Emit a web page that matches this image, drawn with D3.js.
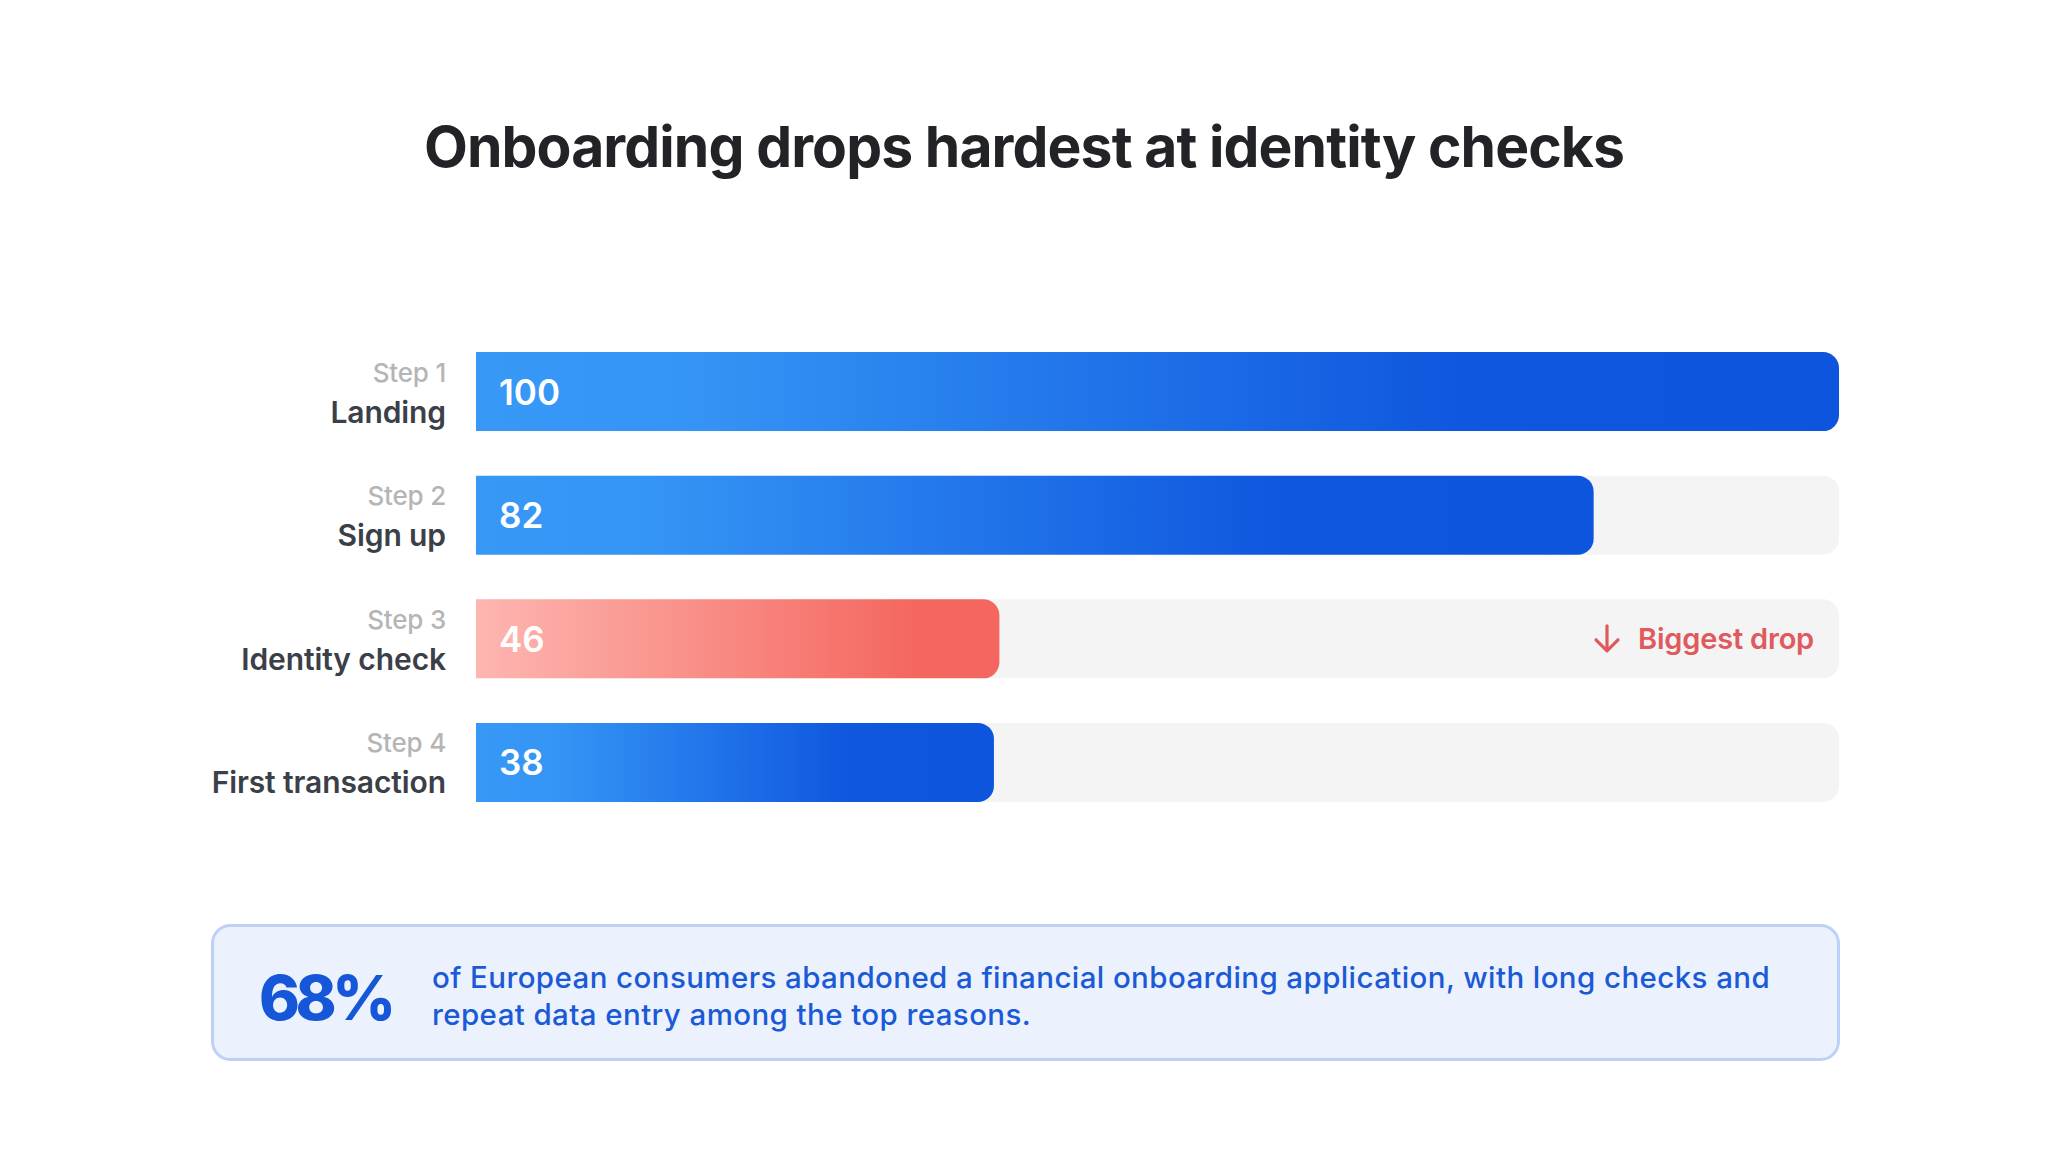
<!DOCTYPE html>
<html>
<head>
<meta charset="utf-8">
<script src="https://cdn.jsdelivr.net/npm/d3@7"></script>
<style>
  html, body { margin: 0; padding: 0; background: #fff; }
  svg { display: block; font-family: Inter, 'Noto Sans', sans-serif; }
</style>
</head>
<body>
<div id="chart"></div>
<script>
const title = 'Onboarding drops hardest at identity checks'
const steps = ['Step 1', 'Step 2', 'Step 3', 'Step 4']
const stages = ['Landing', 'Sign up', 'Identity check', 'First transaction']
const values = [100, 82, 46, 38]
// the reference draws the step 3 bar about as long as step 4, not at 46
const barLengths = [100, 82, 38.4, 38]
const highlight = 'Identity check'
const calloutValue = '68%'
const calloutLines = [
  'of European consumers abandoned a financial onboarding application, with long checks and',
  'repeat data entry among the top reasons.'
]

const width = 2048
const height = 1152
const radius = 16

const svg = d3.select('#chart').append('svg')
  .attr('width', width)
  .attr('height', height)
  .attr('viewBox', '0 0 ' + width + ' ' + height)

const defs = svg.append('defs')

function gradient(id, stops) {
  const g = defs.append('linearGradient')
    .attr('id', id)
    .attr('x1', '0%').attr('y1', '0%')
    .attr('x2', '100%').attr('y2', '0%')
  g.selectAll('stop')
    .data(stops)
    .enter()
    .append('stop')
    .attr('offset', d => d[0])
    .attr('stop-color', d => d[1])
}
gradient('grad-blue', [['0%', '#3898f6'], ['15%', '#3595f5'], ['72%', '#0f57df'], ['100%', '#0e55de']])
gradient('grad-red', [['0%', '#feb6b1'], ['84%', '#f4675f'], ['100%', '#f4665f']])

svg.append('text')
  .attr('x', width / 2)
  .attr('y', 167)
  .attr('text-anchor', 'middle')
  .attr('font-size', 57)
  .attr('font-weight', 700)
  .attr('letter-spacing', -0.9)
  .attr('fill', '#222326')
  .text(title)

const x = d3.scaleLinear().domain([0, 100]).range([476, 1839])
const y = d3.scaleBand().domain(stages).range([352, 802]).paddingInner(0.36).paddingOuter(0)

const data = stages.map((s, i) => ({
  stage: s, step: steps[i], value: values[i], length: barLengths[i]
}))

const rows = svg.append('g').attr('class', 'rows')
  .selectAll('g')
  .data(data)
  .enter()
  .append('g')
  .attr('transform', d => 'translate(0,' + y(d.stage) + ')')

const bh = y.bandwidth()

rows.append('rect')
  .attr('x', x(0))
  .attr('width', x(100) - x(0))
  .attr('height', bh)
  .attr('rx', radius)
  .attr('fill', '#f4f4f4')

// square left end, rounded right end
rows.append('path')
  .attr('fill', d => d.stage === highlight ? 'url(#grad-red)' : 'url(#grad-blue)')
  .attr('d', d => {
    const x0 = x(0)
    const x1 = x(d.length)
    const r = radius
    return 'M' + x0 + ',0H' + (x1 - r) +
      'A' + r + ',' + r + ' 0 0 1 ' + x1 + ',' + r +
      'V' + (bh - r) +
      'A' + r + ',' + r + ' 0 0 1 ' + (x1 - r) + ',' + bh +
      'H' + x0 + 'Z'
  })

rows.append('text')
  .attr('x', x(0) + 23)
  .attr('y', bh / 2 + 13)
  .attr('font-size', 35)
  .attr('font-weight', 600)
  .attr('fill', '#fff')
  .text(d => d.value)

rows.append('text')
  .attr('x', 446)
  .attr('y', bh / 2 - 10)
  .attr('text-anchor', 'end')
  .attr('font-size', 26)
  .attr('font-weight', 500)
  .attr('letter-spacing', -0.2)
  .attr('fill', '#b5b5b5')
  .text(d => d.step)

rows.append('text')
  .attr('x', 446)
  .attr('y', bh / 2 + 31)
  .attr('text-anchor', 'end')
  .attr('font-size', 30)
  .attr('font-weight', 600)
  .attr('letter-spacing', -0.1)
  .attr('fill', '#3b4048')
  .text(d => d.stage)

const hl = rows.filter(d => d.stage === highlight)
hl.append('text')
  .attr('x', x(100) - 25)
  .attr('y', bh / 2 + 10)
  .attr('text-anchor', 'end')
  .attr('font-size', 29)
  .attr('font-weight', 600)
  .attr('letter-spacing', -0.2)
  .attr('fill', '#e05a5d')
  .text('Biggest drop')
hl.append('path')
  .attr('d', 'M1607,' + (bh / 2 - 13) + 'V' + (bh / 2 + 12) +
    'M1596,' + (bh / 2 + 1) + 'L1607,' + (bh / 2 + 12) + 'L1618,' + (bh / 2 + 1))
  .attr('fill', 'none')
  .attr('stroke', '#e05a5d')
  .attr('stroke-width', 3.2)
  .attr('stroke-linecap', 'round')
  .attr('stroke-linejoin', 'round')

const callout = svg.append('g').attr('class', 'callout')
callout.append('rect')
  .attr('x', 212.5)
  .attr('y', 925.5)
  .attr('width', 1626)
  .attr('height', 134)
  .attr('rx', 18)
  .attr('fill', '#ebf2fd')
  .attr('stroke', '#bdd1f6')
  .attr('stroke-width', 3)

callout.append('text')
  .attr('x', 259)
  .attr('y', 1020)
  .attr('font-size', 62)
  .attr('font-weight', 800)
  .attr('letter-spacing', -4.5)
  .attr('fill', '#1557d8')
  .text(calloutValue)

callout.append('text')
  .attr('font-size', 29.5)
  .attr('font-weight', 500)
  .attr('letter-spacing', 0.4)
  .attr('fill', '#1b5ad7')
  .selectAll('tspan')
  .data(calloutLines)
  .enter()
  .append('tspan')
  .attr('x', 432)
  .attr('y', (d, i) => 988 + i * 37)
  .text(d => d)
</script>
</body>
</html>
